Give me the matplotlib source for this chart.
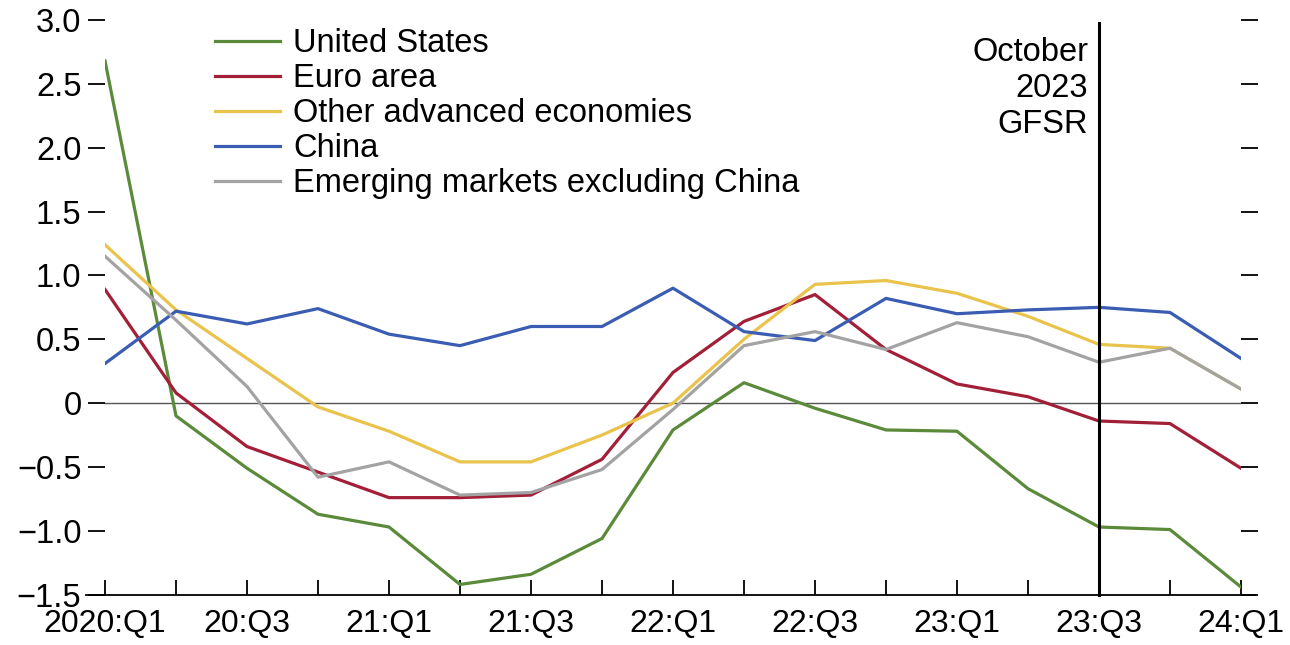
import matplotlib.pyplot as plt
from matplotlib.lines import Line2D

# Datos (leidos do grafico)
quarters = ["2020:Q1", "", "20:Q3", "", "21:Q1", "", "21:Q3", "", "22:Q1", "",
            "22:Q3", "", "23:Q1", "", "23:Q3", "", "24:Q1"]
united_states = [2.68, -0.10, -0.51, -0.87, -0.97, -1.42, -1.34, -1.06, -0.21, 0.16,
                 -0.04, -0.21, -0.22, -0.67, -0.97, -0.99, -1.44]
euro_area = [0.89, 0.08, -0.34, -0.54, -0.74, -0.74, -0.72, -0.44, 0.24, 0.64,
             0.85, 0.42, 0.15, 0.05, -0.14, -0.16, -0.51]
other_adv = [1.24, 0.73, 0.35, -0.03, -0.22, -0.46, -0.46, -0.25, 0.00, 0.50,
             0.93, 0.96, 0.86, 0.68, 0.46, 0.43, 0.11]
china = [0.31, 0.72, 0.62, 0.74, 0.54, 0.45, 0.60, 0.60, 0.90, 0.56,
         0.49, 0.82, 0.70, 0.73, 0.75, 0.71, 0.35]
em_ex_china = [1.15, 0.65, 0.13, -0.58, -0.46, -0.72, -0.70, -0.52, -0.05, 0.45,
               0.56, 0.42, 0.63, 0.52, 0.32, 0.43, 0.11]
yticks = [3.0, 2.5, 2.0, 1.5, 1.0, 0.5, 0, -0.5, -1.0, -1.5]
ytick_labels = ["3.0", "2.5", "2.0", "1.5", "1.0", "0.5", "0", "\u22120.5", "\u22121.0", "\u22121.5"]
gfsr_index = 14

plt.rcParams['font.family'] = ['Liberation Sans', 'DejaVu Sans']
fs = 23.5

fig = plt.figure(figsize=(12.9, 6.45), dpi=100)
ax = fig.add_axes([0.0814, 0.078, 0.8806, 0.891])

x = list(range(len(quarters)))
series = [
    (united_states, "#5b8a3a", "United States"),
    (euro_area, "#a21f37", "Euro area"),
    (other_adv, "#e9c34c", "Other advanced economies"),
    (china, "#3a5db3", "China"),
    (em_ex_china, "#a3a3a3", "Emerging markets excluding China"),
]

ax.axhline(0, color="#555555", lw=1.0, zorder=1)
for vals, col, lab in series:
    ax.plot(x, vals, color=col, lw=2.3, label=lab, zorder=3)

ax.plot([gfsr_index, gfsr_index], [-1.5, 2.98], color="black", lw=2.2, zorder=4, clip_on=False)
ax.text(gfsr_index - 0.15, 2.87, "October\n2023\nGFSR", ha="right", va="top",
        fontsize=fs, linespacing=1.22)

ax.set_xlim(0, 16)
ax.set_ylim(-1.5, 3.0)
for s in ["left", "right", "top", "bottom"]:
    ax.spines[s].set_visible(False)
# eixo inferior estendido
ax.add_line(Line2D([-0.017, 1.012], [0, 0], transform=ax.transAxes, color="black",
                   lw=1.3, clip_on=False))

ax.set_xticks(x)
ax.set_xticklabels(quarters, fontsize=23)
ax.tick_params(axis="x", direction="in", length=11, width=1.3, pad=10)
ax.set_yticks(yticks)
ax.set_yticklabels(ytick_labels, fontsize=fs)
ax.tick_params(axis="y", direction="out", length=12, width=1.3, pad=5,
               left=True, right=True, labelright=False)

ax.legend(loc="upper left", bbox_to_anchor=(0.085, 1.008), frameon=False, fontsize=fs,
          handlelength=2.0, handletextpad=0.4, labelspacing=0.12, borderaxespad=0)

fig.savefig("out.png", dpi=100)
